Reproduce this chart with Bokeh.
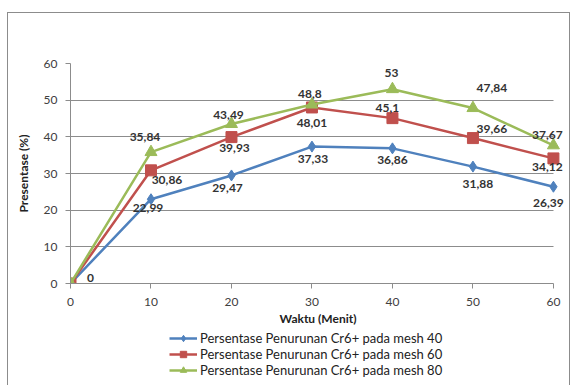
from bokeh.plotting import figure
from bokeh.layouts import column
from bokeh.models import (ColumnDataSource, Legend, LegendItem, Range1d, FixedTicker)
from bokeh.core.properties import value
from bokeh.embed import file_html
from bokeh.resources import INLINE

# ---- data ----
waktu = [0, 10, 20, 30, 40, 50, 60]
mesh40 = [0, 22.99, 29.47, 37.33, 36.86, 31.88, 26.39]
mesh60 = [0, 30.86, 39.93, 48.01, 45.1, 39.66, 34.12]
mesh80 = [0, 35.84, 43.49, 48.8, 53, 47.84, 37.67]
series_names = ["Persentase Penurunan Cr6+ pada mesh 40",
                "Persentase Penurunan Cr6+ pada mesh 60",
                "Persentase Penurunan Cr6+ pada mesh 80"]
y_ticks = [0, 10, 20, 30, 40, 50, 60]
x_ticks = [0, 10, 20, 30, 40, 50, 60]

# ---- styles ----
colors = ["#4F81BD", "#C0504D", "#9BBB59"]
# label offsets in screen px (dx, dy; dy positive = down)
off40 = [(20, -6), (-3, 9), (-4, 13), (1, 12), (0, 12), (5, 17), (-5, 16)]
off60 = [None, (16, 10), (3, 11), (0, 16), (-5, -10), (19, -9), (-6, 9)]
off80 = [None, (-6, -15), (-3, -9), (-2, -11), (-1, -16), (19, -20), (-6, -10)]

FONT = "Lato"
TXT = "#404040"

p = figure(width=561, height=316, output_backend="svg", toolbar_location=None,
           x_range=Range1d(0, 61.5), y_range=Range1d(0, 60),
           min_border_left=62, min_border_right=4, min_border_top=50, min_border_bottom=46)
p.outline_line_color = None
p.background_fill_color = "white"
p.border_fill_color = "white"

p.xgrid.grid_line_color = None
p.ygrid.grid_line_color = "#8C8C8C"
p.ygrid.grid_line_width = 1
p.ygrid.cross_bounds = (0, 60)

for ax in (p.xaxis[0], p.yaxis[0]):
    ax.axis_line_color = "#8C8C8C"
    ax.major_tick_line_color = "#8C8C8C"
    ax.minor_tick_line_color = None
    ax.major_label_text_font = FONT
    ax.major_label_text_font_size = "12px"
    ax.major_label_text_color = TXT
    ax.axis_label_text_font = FONT
    ax.axis_label_text_font_size = "12px"
    ax.axis_label_text_font_style = "bold"
    ax.axis_label_text_color = "#222222"
    ax.major_tick_in = 0
    ax.major_tick_out = 5

p.xaxis.ticker = FixedTicker(ticks=x_ticks)
p.yaxis.ticker = FixedTicker(ticks=y_ticks)
p.xaxis.bounds = (0, 60)
p.xaxis.axis_label = "Waktu (Menit)"
p.yaxis.axis_label = "Presentase (%)"
p.xaxis.major_label_standoff = 9
p.yaxis.major_label_standoff = 8
p.xaxis.axis_label_standoff = 2
p.yaxis.axis_label_standoff = 10

# legend-only figure below the chart
q = figure(width=561, height=56, output_backend="svg", toolbar_location=None,
           x_range=Range1d(0, 60), y_range=Range1d(1000, 1001),
           x_axis_location=None, y_axis_location=None,
           min_border=0, min_border_left=0, min_border_right=0,
           min_border_top=0, min_border_bottom=0)
q.outline_line_color = None
q.grid.visible = False
q.background_fill_color = "white"
q.border_fill_color = "white"

items = []
all_series = [mesh40, mesh60, mesh80]
markers = ["diamond", "square", "triangle"]
msizes = [11, 11, 12]
offs = [off40, off60, off80]
for i, ys in enumerate(all_series):
    src = ColumnDataSource(dict(x=waktu, y=ys))
    p.line("x", "y", source=src, line_color=colors[i], line_width=2.5)
    p.scatter("x", "y", source=src, marker=markers[i], size=msizes[i],
              fill_color=colors[i], line_color=colors[i])
    # same series in the legend figure (out of its visible range)
    ql = q.line("x", "y", source=src, line_color=colors[i], line_width=2.5)
    qm = q.scatter("x", "y", source=src, marker=markers[i], size=msizes[i] - 2,
                   fill_color=colors[i], line_color=colors[i])
    items.append(LegendItem(label=series_names[i], renderers=[ql, qm]))

    lx, ly, lt, dx, dy = [], [], [], [], []
    for j, (xv, yv) in enumerate(zip(waktu, ys)):
        o = offs[i][j]
        if o is None:
            continue
        lx.append(xv); ly.append(yv)
        lt.append(("%g" % yv).replace(".", ","))
        dx.append(o[0]); dy.append(o[1])
    lsrc = ColumnDataSource(dict(x=lx, y=ly, t=lt, dx=dx, dy=dy))
    p.text("x", "y", text="t", source=lsrc, x_offset="dx", y_offset="dy",
           text_align="center", text_baseline="middle",
           text_font=value(FONT), text_font_size="12px", text_font_style="bold",
           text_color="#333333")

legend = Legend(items=items, location=(99, 7), orientation="vertical",
                label_text_font=FONT, label_text_font_size="13px", label_text_color="#222222",
                glyph_width=28, glyph_height=16, label_height=16, spacing=0,
                padding=0, margin=0, border_line_color=None, background_fill_alpha=0,
                label_standoff=3)
q.add_layout(legend, "center")

layout = column(p, q, spacing=0, margin=(13, 0, 0, 8),
                styles={"outline": "1px solid #8C8C8C"})

open("out.html", "w").write(file_html(layout, INLINE))
